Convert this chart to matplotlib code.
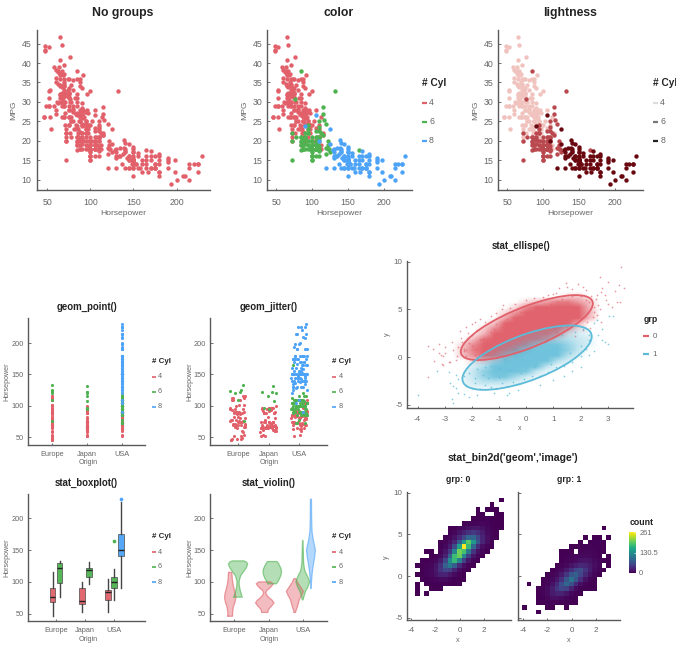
import numpy as np
import matplotlib
matplotlib.use('Agg')
import matplotlib.pyplot as plt
from matplotlib.lines import Line2D
from matplotlib.patches import Ellipse
from matplotlib.transforms import Affine2D

plt.rcParams['font.family'] = ['Liberation Sans', 'DejaVu Sans']
plt.rcParams['axes.unicode_minus'] = False

# Cars: horsepower and mpg per origin / cylinder group
hp_eu4 = [46,87,90,95,113,90,70,76,70,95,54,112,76,87,69,90,46,49,75,91,112,110,52,93,75,67,83,75,78,97,115,71,71,78,90,48,48,48,76,69,67,52,74,95,110,100,115,71,88,83,78,58,67,102,102,88,80,65,81,110,60,70]
mpg_eu4 = [26,25,24,25,26,28,30,30,26,24,23,18,22,21,26,26,26,29,24,20,19,24,29,26,24,26,27,29,26,24,21.6,31.5,31.9,34.3,29.8,43.1,44.3,43.4,41.5,37.3,30,44,33,27.5,23,24,22,30,26,27,25,29,31,20,25,25,33,36,23,21,28,29]
hp_eu6 = [76,110,120,122,123,125,133]
mpg_eu6 = [30.7,17.6,16.5,20,17.8,17,16.2]
hp_jp4 = [95,88,88,95,65,69,92,97,88,65,75,67,53,70,67,52,70,60,95,97,95,97,68,65,71,65,60,65,75,92,75,65,65,67,67,62,88,72,58,60,67,65,62,68,75,75,100,74,68,68,88,75,70,67,67,78,97,75,96,97,83,90,52,61,70,72,67,80,75,93]
mpg_jp4 = [24,27,27,25,31,35,28,23,27,32,32,31,33,32,32,32.8,39.4,36.1,27.5,27.2,21.1,23.9,29.5,34.1,27.2,31.8,38.1,37.2,31.3,37,32.2,46.6,40.8,44.6,33.8,29.8,35,32.4,39.1,35.1,32.3,37,37.7,34.1,33.7,32.4,32.9,31.6,37,31,36,36,34,38,32,30,24,28,28,22,24,26,31,30,33,20,29,29,26,24]
hp_jp6 = [97,95,108,116,120,122,122,132]
mpg_jp6 = [20,24,19,25.4,24.2,19,18,32.7]
hp_us4 = [90,86,60,80,90,86,86,80,88,72,85,75,75,88,68,75,105,85,88,80,80,70,70,90,90,70,90,88,90,105,84,84,92,84,64,63,65,65,80,88,88,88,85,84,90,92,74,63,70,92,96,84,90,86,84,79,82,72,72,105,78,83,95,70,100,90,110,52,53,71]
mpg_us4 = [28,23,27,25,20,21,22,28,20,21,19,28,26,25.1,30,30.9,23.2,23.8,22.3,35.7,27.4,34.2,34.5,28.4,33.5,32.1,28,26.4,24.3,27.9,27.2,26.6,25.8,30,39,34.7,34.4,29.9,28.1,28,27,34,31,29,27,24,36,38,36,26,32,36,27,27,32,28,31,23,22,20,25,23,23,29,20,22,21,29,26,24]
hp_us6 = [95,97,85,90,100,105,100,88,100,110,72,100,88,105,100,100,88,95,100,107,95,100,100,100,105,105,100,100,110,105,95,110,110,100,85,78,90,105,100,72,105,100,110,105,95,72,105,95,85,100,90,105,85,110,120,165,115,85,90,110,90,115,115,110,110,88,85,110,112,85,90,98,105]
mpg_us6 = [22,18,21,21,19,16,17,19,18,18,22,19,18,18,16,18,18,23,18,21,20,21,19,15,18,19,15,16,16,18,18,21,20,16,19,21,22,19,17.5,20,18,20,17.5,22.5,22,15,21,19,20,18,18,20,21,18.6,18.1,17.7,21.5,19.8,20.2,20.6,19.1,28.8,26.8,23.5,22.4,20.2,17.6,25,22,38,20.5,18.5,19.2]
hp_us8 = [130,165,150,150,140,198,220,215,225,190,170,160,150,225,215,200,210,193,165,175,153,150,180,170,175,165,175,150,153,150,208,155,160,190,150,130,140,150,175,150,145,137,150,198,150,158,150,215,225,175,150,167,170,180,145,230,150,180,145,150,148,150,170,150,180,145,148,130,150,180,180,140,110,140,139,145,139,140,130,129,138,135,155,142,125,150,125,90,105,170,145,120,165,190,175,145,180,190,155,130,150,160,135]
mpg_us8 = [18,15,18,16,17,15,14,14,14,15,15,14,15,14,10,10,11,9,14,14,14,14,12,13,13,13,14,15,14,17,11,13,12,13,15,13,13,14,13,14,13,14,15,12,13,13,14,13,12,13,11,12,13,12,15,16,15,11,16,15,14,13,16,15.5,15,16,15,15.5,14.5,16.5,14,18,19.9,19.4,20.2,19.2,18.1,17.5,17,17.6,16.5,18.2,16.9,15.5,19.2,18.5,23,23.9,26.6,17.5,15,13,16,14.5,16,13,16,15.5,16,16,17,15,16]

# Jitter offsets, hundredths of a category
jit_eu = [-21,8,-3,17,-14,22,1,-25,12,-9,19,-18,5,-1,24,-12,-23,15,7,-6,20,-16,10,-20,2,25,-11,14,-4,-24,18,-8,23,-17,4,-2,11,-19,16,-7,21,-13,6,-26,9,-5,24,-15,13,0,-22,17,-10,3,19,-12,25,-3,8,-20,14,-16,22,1,-9,6,-24,11,18,-4]
jit_jp = [-4,19,-15,8,23,-22,2,12,-9,-25,16,5,-18,21,-1,-12,9,25,-6,14,-20,3,18,-24,7,-11,22,-3,13,-17,0,24,-8,10,-21,17,-14,4,-26,20,-5,11,-19,15,1,-10,23,-23,6,-2,19,-16,12,-7,25,-13,3,16,-20,9,-1,21,-24,14,-6,5,-18,22,-11,8,-15,0,18,-3,24,-22,10,13,-9,2]
jit_us = [12,-20,4,23,-7,17,-24,1,9,-14,21,-3,-18,15,6,-25,11,25,-10,19,-1,-22,7,13,-16,3,24,-6,-12,18,-23,10,-2,20,-19,5,16,-9,-26,14,0,22,-15,8,-4,25,-21,2,17,-11,12,-7,19,-24,6,23,-13,10,-1,-18,15,3,-20,21,-8,9,24,-16,1,13,-5,-23,18,7,-12,25,-2,11,-19,4,20,-10,16,-25,8,-6,22,-14,0,14,-21,5,19,-3,-17,24,10,-9,2,-24,17,12,-15,6,23,-1,-20,9,15,-11,25,-5,3,-18,21,-8,13,-26,7,18,-13,1,24,-4,11,-22,16,-7,20,-16,4,-2,22,-12,9,-19,14,5,-24,19,0,-10,25,-6,12,-21,2,17,-15,8,23,-3,-8,15,-23,6,20,-12,1,11,-18,24,-4,9,-25,16,3,-14,21,-7,13,-1,-20,18,5,-10,25,-16,7,-5,22,-22,10,2,-13,17,-2,-24,12,19,-9,4,-19,24,-6,14,-15,0,21,-11,8,-26,16,-3,23,-17,6,11,-8,20,-21,3,25,-13,15,-1,-18,9,-5,22,-23,13,-10,1,18,-16,7,24,-4,-20,12,-12,5,17,-25,10,-7,21,-14,2,19,-2,-19,14,6,-22,25,-9,8,-15,16]

# Boxplot statistics
box_stats = {
    'eu4': dict(whislo=46, q1=69, med=76, q3=90, whishi=115),
    'eu6': dict(whislo=76, q1=98, med=122, q3=129, whishi=133),
    'jp4': dict(whislo=52, q1=65, med=70, q3=90, whishi=100),
    'jp6': dict(whislo=97, q1=107, med=118, q3=122, whishi=132),
    'us4': dict(whislo=52, q1=72, med=84, q3=88, whishi=105),
    'us6': dict(whislo=72, q1=90, med=100, q3=108, whishi=120),
    'us8': dict(whislo=90, q1=140, med=150, q3=175, whishi=225),
}
flier_us6 = [165]
flier_us8 = [230]

# Violin outlines: y levels and half widths in category units
vio_eu4_y = [46,52,60,68,75,82,90,97,105,115]
vio_eu4_w = [.07,.07,.09,.14,.165,.15,.11,.08,.06,.05]
vio_eu6_y = [76,80,85,90,95,100,105,110,116,122,128,131,133]
vio_eu6_w = [.12,.1,.07,.05,.035,.03,.05,.08,.16,.24,.28,.25,.17]
vio_jp4_y = [52,55,58,62,67,71,75,79,83,87,90,94,97,100]
vio_jp4_w = [.09,.1,.13,.2,.27,.22,.13,.06,.03,.07,.14,.21,.25,.17]
vio_jp6_y = [97,100,105,110,115,120,125,129,132]
vio_jp6_w = [.12,.16,.21,.25,.27,.26,.22,.18,.14]
vio_us4_y = [52,56,60,66,72,78,85,90,95,100,105]
vio_us4_w = [.02,.04,.07,.1,.13,.19,.25,.19,.13,.07,.03]
vio_us6_y = [72,78,85,92,100,105,110,115,120,130,150,165]
vio_us6_w = [.01,.04,.08,.15,.2,.17,.13,.08,.05,.025,.015,.005]
vio_us8_y = [90,100,110,120,130,140,150,158,165,172,180,200,230]
vio_us8_w = [.005,.015,.03,.05,.08,.11,.13,.1,.07,.05,.03,.02,.015]

# stat_bin2d counts, top row first
bin_x_edges = [-4.07,-3.685,-3.3,-2.915,-2.53,-2.145,-1.76,-1.375,-.99,-.605,-.22,.165,.55,.935,1.32,1.705,2.09,2.475,2.86,3.245,3.63]
bin_y_edges = [9.4,8.84,8.28,7.72,7.16,6.6,6.04,5.48,4.92,4.36,3.8,3.24,2.68,2.12,1.56,1,.44,-.12,-.68,-1.24,-1.8,-2.36,-2.92,-3.48,-4.04,-4.6]
counts_grp0 = [
    [0,0,0,0,0,0,0,0,0,0,0,0,0,0,0,0,0,0,0,1],
    [0,0,0,0,0,0,0,0,0,0,0,0,0,0,0,0,0,1,0,0],
    [0,0,0,0,0,0,0,0,0,0,0,0,0,0,1,0,1,2,1,0],
    [0,0,0,0,0,0,0,0,0,0,0,0,0,0,1,1,0,0,1,1],
    [0,0,0,0,0,0,0,0,0,0,0,0,0,1,2,2,3,1,1,1],
    [0,0,0,0,0,0,0,0,0,0,0,1,2,3,4,5,3,2,1,1],
    [0,0,0,0,0,0,0,0,1,1,4,7,11,16,16,11,6,2,1,1],
    [0,0,0,0,0,0,0,0,2,5,14,24,36,42,32,20,8,3,1,0],
    [0,0,0,0,0,0,0,1,5,12,30,55,85,85,55,26,10,3,1,0],
    [0,0,0,0,0,0,1,3,10,28,75,140,195,140,70,28,9,2,0,0],
    [0,0,0,0,0,0,2,6,20,60,150,261,175,85,32,10,3,1,0,0],
    [0,0,0,1,1,0,4,14,42,115,205,185,105,40,12,4,1,0,0,0],
    [0,0,0,0,1,3,8,25,80,180,200,120,50,15,4,1,0,0,0,0],
    [0,0,1,1,3,7,18,55,125,175,115,50,16,4,1,0,0,0,0,0],
    [0,1,1,3,5,14,35,80,105,75,32,10,3,1,0,0,0,0,0,0],
    [0,0,1,3,7,16,38,55,50,26,9,3,1,0,0,0,0,0,0,0],
    [0,1,1,3,6,13,24,25,16,8,3,1,0,0,0,0,0,0,0,0],
    [0,0,1,1,3,5,7,7,4,2,1,1,0,0,0,0,0,0,0,0],
    [0,1,0,1,1,2,2,2,1,1,1,0,0,0,0,0,0,0,0,0],
    [0,1,0,0,1,1,1,0,0,0,0,0,0,0,0,0,0,0,0,0],
    [0,1,0,1,0,0,0,0,0,0,0,0,0,0,0,0,0,0,0,0],
    [0,0,0,0,0,0,0,0,0,0,0,0,0,0,0,0,0,0,0,0],
    [0,0,0,0,0,0,0,0,0,0,0,0,0,0,0,0,0,0,0,0],
    [0,0,0,0,0,0,0,0,0,0,0,0,0,0,0,0,0,0,0,0],
    [0,0,0,0,0,0,0,0,0,0,0,0,0,0,0,0,0,0,0,0],
]
counts_grp1 = [
    [0,0,0,0,0,0,0,0,0,0,0,0,0,0,0,0,0,0,0,0],
    [0,0,0,0,0,0,0,0,0,0,0,0,0,0,0,0,0,0,0,0],
    [0,0,0,0,0,0,0,0,0,0,0,0,0,0,0,0,0,0,0,0],
    [0,0,0,0,0,0,0,0,0,0,0,0,0,0,0,0,0,0,0,0],
    [0,0,0,0,0,0,0,0,0,0,0,0,0,0,0,0,0,0,0,0],
    [0,0,0,0,0,0,0,0,0,0,0,0,0,0,0,0,0,0,0,0],
    [0,0,0,0,0,0,0,0,0,0,0,0,0,0,0,0,0,1,0,0],
    [0,0,0,0,0,0,0,0,0,0,0,0,0,0,0,0,0,0,0,0],
    [0,0,0,0,0,0,0,0,0,0,0,0,0,1,0,1,1,0,1,0],
    [0,0,0,0,0,0,0,0,0,0,0,0,1,0,1,2,2,1,0,0],
    [0,0,0,0,0,0,0,0,0,0,1,1,2,2,3,2,2,1,0,0],
    [0,0,0,0,0,0,0,0,1,1,1,0,3,4,4,3,2,1,0,0],
    [0,0,0,0,0,0,0,0,1,2,3,5,6,7,6,4,2,0,1,0],
    [0,0,0,0,0,0,0,0,1,3,5,8,12,14,12,7,4,2,1,0],
    [0,0,0,0,0,0,0,1,3,7,14,22,30,26,18,9,4,0,1,0],
    [0,0,0,0,0,0,1,3,8,18,35,55,60,40,20,8,3,1,0,0],
    [0,0,0,0,0,1,3,7,18,40,70,80,55,30,12,4,1,0,0,0],
    [0,0,0,0,1,2,6,15,35,70,100,70,35,12,4,1,0,0,0,0],
    [0,1,0,0,1,4,12,30,60,85,65,30,10,3,1,1,0,0,0,0],
    [0,0,0,1,3,8,20,40,55,50,25,8,2,1,1,1,0,0,0,0],
    [0,0,0,1,3,8,18,25,25,15,6,2,1,0,0,0,0,0,0,0],
    [0,0,0,1,2,5,10,10,8,4,2,1,0,0,0,0,0,0,0,0],
    [0,0,0,1,1,2,3,3,2,1,1,1,0,0,0,0,0,0,0,0],
    [1,0,0,0,0,1,1,0,0,1,0,0,0,0,0,0,0,0,0,0],
    [0,0,0,1,0,0,0,0,0,0,0,0,0,0,0,0,0,0,0,0],
]

# stat_ellipse parameters
ell0_center = (0.02, 3.1)
ell0_rx, ell0_ry, ell0_rho = 2.43, 3.4, 0.74
ell1_center = (0.03, -0.05)
ell1_rx, ell1_ry, ell1_rho = 2.38, 3.37, 0.66

# Scattered single points around the clouds
dots0_x = [-3.6,-3.45,-3.2,-3.2,-3.15,-3.05,-3,-3.05,-3,-3.6,-3.4,-3.1,-2.85,-2.8,-2.75,-2.7,-2.6,-2.55,-2.45,-2.4,-2.35,-2.2,-2.15,-2,-1.9,-1.7,-1.5,-1.3,-1.1,-.9,-.85,-.6,-2.5,-2.3,-2.2,-2.1,-1.9,-1.8,-1.6,-1.4,-1.2,-2.3,-2.15,-2,-1.85,3.5,2.7,3,3.4,3.6,3.25,2.8,2.6,2.75,2.9,2.95,3,3.35,3.45,3.15,2.65,2.55,2.5,2.7,2.5,2.75,1.2,1.9,1.45,1.7,2.1,2.2,1.5,1,.8,2.4,2.3,2.6,2.45,-.4,0,.3,.6,1.1,-2.2,-1.7,-1.3,-.9,-.5,-2,-1.6,-1.1,-.7,-.2,.4,.9,1.3,1.7,2,2.2,1.9,1.5,1.1,.7,2.25,2.35,2.1,1.8]
dots0_y = [1.2,.9,1.35,.4,.25,.1,.4,-.8,1.1,-2.1,-.4,-.7,-.5,-.55,1.6,.8,-.3,.1,2.7,2,1.6,3.2,2.5,3.5,3.7,4,3.7,4.3,4.6,5,5.5,5.2,1.1,.6,.1,1.5,.2,2.8,.6,1.4,3,.9,1.9,2.3,.9,9.4,8.4,7.9,7.6,7.2,6.9,7.2,6.5,6.8,6.5,6,5.6,5.8,5.8,5.3,5.5,6.1,5.3,5,4.7,3.7,7.2,7.7,7.8,7.1,7.3,7,7.3,6.6,6.5,6.4,5.8,4.4,4.2,5.6,6,6.2,6.3,6.7,.8,1.8,2.6,3.2,4.1,1.2,1.9,3.5,4,4.7,5.1,5.6,6.1,6.4,6.4,6,4.2,3.2,2.6,1.6,3.7,3.1,2.8,2.2]
dots1_x = [-4,-2.75,-2.7,-2.8,-2.7,-2.6,-2.5,-2.3,-2.1,-1.8,-1.2,-.7,-.65,-3.3,-2.85,-2.3,-2.5,-2.6,-.3,.5,1,1.4,1.7,2,2.3,2.5,2.65,2.8,2.9,3,2.8,3.05,3.2,2.6,2.5,-2.2,-2,-1.9,-1.7,-1.5,-1.3,-1.1,-.9,-.7,-.5,-.3,-.1,.2,.5,.8,1.1,1.4,1.7,2,2.2,-2.1,-1.8,-1.6,-1.3,-1,-.8,-.4,-.2,.1,.4,.7,1,1.3,1.5,1.8,2.1,2.3,-1.9,-1.4,-1.5,-1,-.6,-.2,.3,.9,1.6,2,2.3]
dots1_y = [-4,-4.4,-4.8,-2.7,-3,-3.2,-3.7,-3.9,-4.2,-4,-3.7,-4,-3.8,-1.4,-1.5,-2,-2.3,-1.9,-3.4,-2.9,-2.4,-2,-1.4,-1,.2,.7,2.3,1.8,1.6,1.4,3,4.3,4.3,3.9,3.6,-3,-3.2,-2.7,-3.3,-2.9,-3.1,-3.2,-2.7,-3,-2.6,-2.8,-2.3,-2,-2,-1.6,-1,-.9,-.5,.1,.9,-1.7,-1.2,-1.9,-.9,-1.1,-.2,.1,.6,.9,1.4,1.6,2.2,2.3,2.9,2.6,3,2.3,-2.2,-2.2,-1,-2.1,-1.3,-1.7,-1,-.7,.4,1.2,1.8]

tick_50 = [50, 100, 150, 200]
mpg_ticks = [10, 15, 20, 25, 30, 35, 40, 45]
origin_names = ['Europe', 'Japan', 'USA']
cyl_names = ['4', '6', '8']

RED = '#E1606A'
GREEN = '#4DB24F'
BLUE = '#4DA3F7'
CYAN = '#5CBBD8'
cyl_cols = [RED, GREEN, BLUE]
light_cols = ['#F0C3BF', '#B9494F', '#6A0810']
light_keys = ['#DDDDDD', '#777777', '#222222']
AXC = '#5A5A5A'
TXT = '#666666'
TITLE = '#222222'

W, H = 676, 647
fig = plt.figure(figsize=(W / 100, H / 100), dpi=100)


def add_ax(l, t, r, b, xlim, ylim, xticks, yticks, fs=5.3, pad=3, xpad=4):
    ax = fig.add_axes([l / W, 1 - b / H, (r - l) / W, (b - t) / H])
    ax.set_xlim(xlim)
    ax.set_ylim(ylim)
    ax.set_xticks(xticks)
    ax.set_yticks(yticks)
    for s in ['top', 'right']:
        ax.spines[s].set_visible(False)
    for s in ['left', 'bottom']:
        ax.spines[s].set_color(AXC)
        ax.spines[s].set_linewidth(1.0)
    ax.tick_params(direction='in', length=1.8, width=0.6, color=AXC,
                   labelcolor=TXT, labelsize=fs, pad=pad)
    ax.tick_params(axis='x', pad=xpad)
    return ax


def ptext(x, y, s, size=5, color=TXT, weight='normal', ha='center', rot=0):
    fig.text(x / W, 1 - y / H, s, fontsize=size, color=color, fontweight=weight,
             ha=ha, va='center', rotation=rot)


def legend(x, ys, title_y, title, labels, cols, tsize, fsize, klen, gap, lw=1.6):
    ptext(x, title_y, title, size=tsize, color=TITLE, weight='bold', ha='left')
    for y, lab, c in zip(ys, labels, cols):
        fig.add_artist(Line2D([x / W, (x + klen) / W], [1 - y / H, 1 - y / H],
                              color=c, lw=lw, solid_capstyle='butt'))
        ptext(x + gap, y, lab, size=fsize, ha='left')


groups = [
    (hp_eu4, mpg_eu4, 0, 0), (hp_eu6, mpg_eu6, 0, 1),
    (hp_jp4, mpg_jp4, 1, 0), (hp_jp6, mpg_jp6, 1, 1),
    (hp_us4, mpg_us4, 2, 0), (hp_us6, mpg_us6, 2, 1), (hp_us8, mpg_us8, 2, 2),
]
hp_all = hp_eu4 + hp_eu6 + hp_jp4 + hp_jp6 + hp_us4 + hp_us6 + hp_us8
mpg_all = mpg_eu4 + mpg_eu6 + mpg_jp4 + mpg_jp6 + mpg_us4 + mpg_us6 + mpg_us8

# --- top row ---
xl, yl = (37.6, 238.8), (7.35, 48.5)
ax = add_ax(36.5, 30, 210, 190, xl, yl, tick_50, mpg_ticks, fs=6.3, pad=3.5, xpad=5.5)
ax.scatter(hp_all, mpg_all, s=10, color=RED, lw=0)
ptext(123, 13, 'No groups', size=8.8, color=TITLE, weight='bold')
ptext(123, 213.5, 'Horsepower', size=6.1)
ptext(14, 110, 'MPG', size=6.1, rot=90)

ax = add_ax(267.3, 30, 411.7, 190, xl, yl, tick_50, mpg_ticks, fs=6.3, pad=3.5, xpad=5.5)
for c in range(3):
    for hp, mpg, o, cy in groups:
        if cy == c:
            ax.scatter(hp, mpg, s=10, color=cyl_cols[c], lw=0)
ptext(339, 13, 'color', size=8.8, color=TITLE, weight='bold')
ptext(339, 213.5, 'Horsepower', size=6.1)
ptext(244.3, 110, 'MPG', size=6.1, rot=90)
legend(421.7, [102.7, 122, 140.7], 83, '# Cyl', cyl_names, cyl_cols, 7.3, 6.3, 5, 7.3)

ax = add_ax(498.3, 30, 642.7, 190, xl, yl, tick_50, mpg_ticks, fs=6.3, pad=3.5, xpad=5.5)
for c in range(3):
    for hp, mpg, o, cy in groups:
        if cy == c:
            ax.scatter(hp, mpg, s=10, color=light_cols[c], lw=0)
ptext(570, 13, 'lightness', size=8.8, color=TITLE, weight='bold')
ptext(570.7, 213.5, 'Horsepower', size=6.1)
ptext(476, 110, 'MPG', size=6.1, rot=90)
legend(653, [102.7, 122, 140.7], 83, '# Cyl', cyl_names, light_keys, 7.3, 6.3, 5, 7.3)

# --- geom_point / geom_jitter ---
hp_ticks = [50, 100, 150, 200]
leg_mid = [376.7, 391.7, 406.7]
ax = add_ax(28.3, 318, 145, 445, (.31, 3.67), (37.8, 239.8), [1, 2, 3], hp_ticks, fs=5.3)
ax.set_xticklabels(origin_names)
for hp, mpg, o, cy in groups:
    ax.scatter([o + 1] * len(hp), hp, s=5, color=cyl_cols[cy], lw=0)
ptext(86.7, 307, 'geom_point()', size=6.9, color=TITLE, weight='bold')
ptext(87.7, 463, 'Origin', size=5.1)
ptext(7.3, 381.7, 'Horsepower', size=5.1, rot=90)
legend(151.7, leg_mid, 361.7, '# Cyl', cyl_names, cyl_cols, 5.7, 5.2, 3.8, 6.3, lw=1.2)

ax = add_ax(210, 318, 326.7, 445, (.1, 3.89), (37.8, 239.8), [1, 2, 3], hp_ticks, fs=5.3)
ax.set_xticklabels(origin_names)
used = [0, 0, 0]
jit = [jit_eu, jit_jp, jit_us]
for hp, mpg, o, cy in groups:
    n = len(hp)
    off = np.array(jit[o][used[o]:used[o] + n]) / 100
    used[o] += n
    ax.scatter(o + 1 + off, hp, s=5, color=cyl_cols[cy], lw=0)
ptext(269, 307, 'geom_jitter()', size=6.9, color=TITLE, weight='bold')
ptext(269, 463, 'Origin', size=5.1)
ptext(190, 381.7, 'Horsepower', size=5.1, rot=90)
legend(332.3, leg_mid, 361.7, '# Cyl', cyl_names, cyl_cols, 5.7, 5.2, 3.8, 6.3, lw=1.2)

# --- boxplot / violin ---
leg_bot = [552.3, 567, 582]
ax = add_ax(28.3, 494.3, 145, 621, (.05, 4.05), (38.5, 237.7), [1, 2, 3], hp_ticks, fs=5.3)
box_layout = [('eu4', .88, 0), ('eu6', 1.12, 1), ('jp4', 1.88, 0), ('jp6', 2.12, 1),
              ('us4', 2.77, 0), ('us6', 3.0, 1), ('us8', 3.23, 2)]
for key, pos, c in box_layout:
    st = dict(box_stats[key], fliers=[])
    art = ax.bxp([st], positions=[pos], widths=.2, patch_artist=True, showcaps=False,
                 showfliers=False, manage_ticks=False,
                 boxprops=dict(facecolor=cyl_cols[c], edgecolor='#444444', lw=.5, alpha=.95),
                 whiskerprops=dict(color='#444444', lw=1.0),
                 medianprops=dict(color='#222222', lw=1.0))
ax.scatter([3.0] * len(flier_us6), flier_us6, s=7, color=GREEN, lw=0)
ax.scatter([3.23] * len(flier_us8), flier_us8, s=7, color=BLUE, lw=0, clip_on=False)
ax.set_xticks([1, 2, 3])
ax.set_xticklabels(origin_names)
ptext(86.7, 482.7, 'stat_boxplot()', size=6.9, color=TITLE, weight='bold')
ptext(87.7, 639.5, 'Origin', size=5.1)
ptext(7.3, 557.7, 'Horsepower', size=5.1, rot=90)
legend(151.7, leg_bot, 537, '# Cyl', cyl_names, cyl_cols, 5.7, 5.2, 3.8, 6.3, lw=1.2)

ax = add_ax(210, 494.3, 326.7, 621, (.29, 3.7), (38.5, 237.7), [1, 2, 3], hp_ticks, fs=5.3)
ax.set_xticklabels(origin_names)
violins = [(vio_eu4_y, vio_eu4_w, .88, 0), (vio_eu6_y, vio_eu6_w, 1.11, 1),
           (vio_jp4_y, vio_jp4_w, 1.89, 0), (vio_jp6_y, vio_jp6_w, 2.11, 1),
           (vio_us4_y, vio_us4_w, 2.77, 0), (vio_us6_y, vio_us6_w, 3.0, 1),
           (vio_us8_y, vio_us8_w, 3.24, 2)]
for vy, vw, pos, c in violins:
    vy = np.array(vy)
    vw = np.array(vw)
    ax.fill_betweenx(vy, pos - vw, pos + vw, facecolor=cyl_cols[c], alpha=.42, lw=0)
    ax.plot(np.r_[pos - vw, (pos + vw)[::-1], (pos - vw)[0]], np.r_[vy, vy[::-1], vy[0]],
            color=cyl_cols[c], alpha=.6, lw=.9)
ptext(269, 482.7, 'stat_violin()', size=6.9, color=TITLE, weight='bold')
ptext(269, 639.5, 'Origin', size=5.1)
ptext(190, 557.7, 'Horsepower', size=5.1, rot=90)
legend(332.3, leg_bot, 537, '# Cyl', cyl_names, cyl_cols, 5.7, 5.2, 3.8, 6.3, lw=1.2)

# --- stat_ellipse ---
grid0 = np.array(counts_grp0, float)
grid1 = np.array(counts_grp1, float)
ax = add_ax(406.7, 261, 633.3, 408.3, (-4.4, 3.94), (-5.35, 10.07), [-4, -3, -2, -1, 0, 1, 2, 3],
            [-5, 0, 5, 10], fs=5.8, xpad=5.5)
ext = (bin_x_edges[0], bin_x_edges[-1], bin_y_edges[-1], bin_y_edges[0])
for grid, col, sat, top in [(grid0, RED, 20., .98), (grid1, CYAN, 32., .85)]:
    rgba = np.zeros(grid.shape + (4,))
    rgba[..., :3] = matplotlib.colors.to_rgb(col)
    rgba[..., 3] = np.clip(grid / sat, 0, top) * (grid > 3)
    ax.imshow(rgba, extent=ext, aspect='auto', interpolation='bilinear',
              interpolation_stage='rgba', zorder=1)
ax.set_xlim(-4.4, 3.94)
ax.set_ylim(-5.35, 10.07)
ax.scatter(dots0_x, dots0_y, s=1.5, color=RED, alpha=.65, lw=0, zorder=2)
ax.scatter(dots1_x, dots1_y, s=1.5, color=CYAN, alpha=.75, lw=0, zorder=2)
for cen, rx, ry, rho, col in [(ell0_center, ell0_rx, ell0_ry, ell0_rho, RED),
                              (ell1_center, ell1_rx, ell1_ry, ell1_rho, CYAN)]:
    mat = Affine2D(np.array([[rx, 0, cen[0]], [ry * rho, ry * np.sqrt(1 - rho ** 2), cen[1]], [0, 0, 1]]))
    ax.add_patch(Ellipse((0, 0), 2, 2, transform=mat + ax.transData, facecolor=col, alpha=.15, lw=0, zorder=3))
    ax.add_patch(Ellipse((0, 0), 2, 2, transform=mat + ax.transData, fill=False, edgecolor=col, lw=1.3, zorder=4))
ptext(520.7, 245.7, 'stat_ellispe()', size=6.9, color=TITLE, weight='bold')
ptext(520, 428, 'x', size=5.1)
ptext(387, 334, 'y', size=5.1, rot=90)
legend(643.3, [336, 354], 319.7, 'grp', ['0', '1'], [RED, CYAN], 6.3, 5.8, 5.5, 9.4, lw=1.6)

# --- stat_bin2d ---
ptext(513, 457.7, "stat_bin2d('geom','image')", size=7.6, color=TITLE, weight='bold')
ylim_bin = (-5.28, 10.12)
ax0 = add_ax(406.7, 491.7, 510.7, 620, (-4.38, 4.2), ylim_bin, [-4, -2, 0, 2], [-5, 0, 5, 10], fs=5.8, xpad=5)
mesh = ax0.pcolormesh(bin_x_edges, bin_y_edges, np.ma.masked_equal(grid0, 0), cmap='viridis', vmin=0, vmax=261)
ax1 = add_ax(517.7, 491.7, 620, 620, (-4.41, 3.97), ylim_bin, [-4, -2, 0, 2], [-5, 0, 5, 10], fs=5.8, xpad=5)
ax1.tick_params(labelleft=False)
ax1.pcolormesh(bin_x_edges, bin_y_edges, np.ma.masked_equal(grid1, 0), cmap='viridis', vmin=0, vmax=261)
ptext(457.7, 479.7, 'grp: 0', size=6.2, color=TITLE, weight='bold')
ptext(569, 479.7, 'grp: 1', size=6.2, color=TITLE, weight='bold')
ptext(457.3, 640.5, 'x', size=5.1)
ptext(569, 640.5, 'x', size=5.1)
ptext(386.7, 556.7, 'y', size=5.1, rot=90)

cax = fig.add_axes([629.3 / W, 1 - 572.7 / H, 6.4 / W, 40.4 / H])
cb = fig.colorbar(mesh, cax=cax, ticks=[0, 130.5, 261])
cb.ax.set_yticklabels(['0', '130.5', '261'])
cb.outline.set_visible(False)
cb.ax.tick_params(direction='in', length=1.5, width=.5, color='white', labelcolor=TXT, labelsize=5.4, pad=2.5)
ptext(629.3, 522.7, 'count', size=6.3, color=TITLE, weight='bold', ha='left')

fig.savefig('out.png', dpi=100)
